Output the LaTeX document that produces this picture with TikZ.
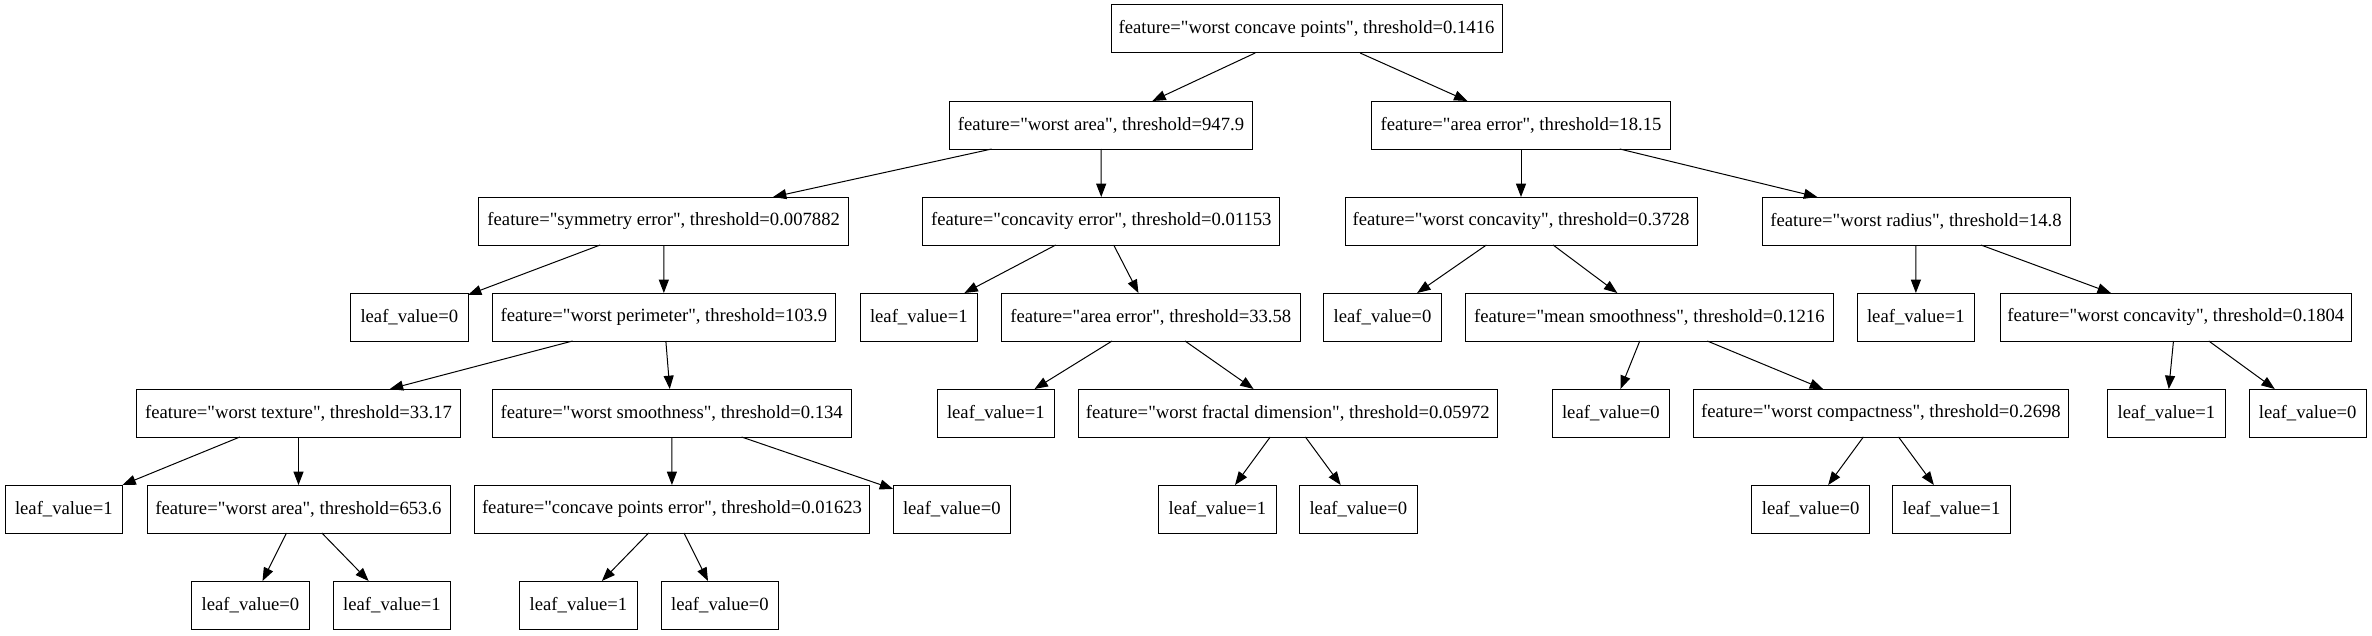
\documentclass[tikz,border=0pt]{standalone}
\usepackage{fontspec}
\setmainfont{Liberation Serif}[Ligatures=TeXOff]
\usetikzlibrary{arrows.meta}
\tikzset{
  gbox/.style={draw, line width=0.75pt, rectangle, minimum height=36pt, inner sep=0pt, outer sep=0pt,
    font=\fontsize{14pt}{16pt}\selectfont, minimum width=#1},
  gleaf/.style={gbox=88.1pt},
  gedge/.style={line width=0.75pt, -{Triangle[length=10pt,width=7.5pt]}}
}
\begin{document}
\begin{tikzpicture}[x=0.75pt,y=-0.75pt]
\useasboundingbox (0,0) rectangle (2372,635);
% level 0
\node[gbox=293.25pt] (r) at (1306.5,29) {feature="worst concave points", threshold=0.1416};
% level 1
\node[gbox=227.25pt] (a) at (1101,125) {feature="worst area", threshold=947.9};
\node[gbox=224.25pt] (b) at (1521,125) {feature="area error", threshold=18.15};
% level 2
\node[gbox=277.1pt] (c) at (663.7,221) {feature="symmetry error", threshold=0.007882};
\node[gbox=267.5pt] (d) at (1101.3,221) {feature="concavity error", threshold=0.01153};
\node[gbox=264pt] (e) at (1521,221) {feature="worst concavity", threshold=0.3728};
\node[gbox=231pt] (f) at (1916,221) {feature="worst radius", threshold=14.8};
% level 3
\node[gleaf] (g) at (409.3,317) {leaf\_value=0};
\node[gbox=257.8pt] (h) at (663.9,317) {feature="worst perimeter", threshold=103.9};
\node[gleaf] (i) at (918.8,317) {leaf\_value=1};
\node[gbox=223.9pt] (j) at (1150.8,317) {feature="area error", threshold=33.58};
\node[gleaf] (k) at (1382.5,317) {leaf\_value=0};
\node[gbox=275.4pt] (l) at (1649.4,317) {feature="mean smoothness", threshold=0.1216};
\node[gleaf] (m) at (1915.8,317) {leaf\_value=1};
\node[gbox=262.9pt] (n) at (2175.8,317) {feature="worst concavity", threshold=0.1804};
% level 4
\node[gbox=242.6pt] (o) at (298.5,413) {feature="worst texture", threshold=33.17};
\node[gbox=269pt] (p) at (671.7,413) {feature="worst smoothness", threshold=0.134};
\node[gleaf] (q) at (995.8,413) {leaf\_value=1};
\node[gbox=313.8pt] (s) at (1287.8,413) {feature="worst fractal dimension", threshold=0.05972};
\node[gleaf] (t) at (1610.8,413) {leaf\_value=0};
\node[gbox=281.25pt] (u) at (1880.9,413) {feature="worst compactness", threshold=0.2698};
\node[gleaf] (v) at (2166.4,413) {leaf\_value=1};
\node[gleaf] (w) at (2307.7,413) {leaf\_value=0};
% level 5
\node[gleaf] (x1) at (63.8,509) {leaf\_value=1};
\node[gbox=227.25pt] (x2) at (298.5,509) {feature="worst area", threshold=653.6};
\node[gbox=296.25pt] (x3) at (672,509) {feature="concave points error", threshold=0.01623};
\node[gleaf] (x4) at (951.8,509) {leaf\_value=0};
\node[gleaf] (x5) at (1217.4,509) {leaf\_value=1};
\node[gleaf] (x6) at (1358.3,509) {leaf\_value=0};
\node[gleaf] (x7) at (1810.6,509) {leaf\_value=0};
\node[gleaf] (x8) at (1951.5,509) {leaf\_value=1};
% level 6
\node[gleaf] (y1) at (250.5,605) {leaf\_value=0};
\node[gleaf] (y2) at (392,605) {leaf\_value=1};
\node[gleaf] (y3) at (578.5,605) {leaf\_value=1};
\node[gleaf] (y4) at (720,605) {leaf\_value=0};
% edges
\foreach \s/\t in {r/a,r/b,a/c,a/d,b/e,b/f,c/g,c/h,d/i,d/j,e/k,e/l,f/m,f/n,
  h/o,h/p,j/q,j/s,l/t,l/u,n/v,n/w,o/x1,o/x2,p/x3,p/x4,s/x5,s/x6,u/x7,u/x8,
  x2/y1,x2/y2,x3/y3,x3/y4}
  \draw[gedge] (\s) -- (\t);
\end{tikzpicture}
\end{document}
